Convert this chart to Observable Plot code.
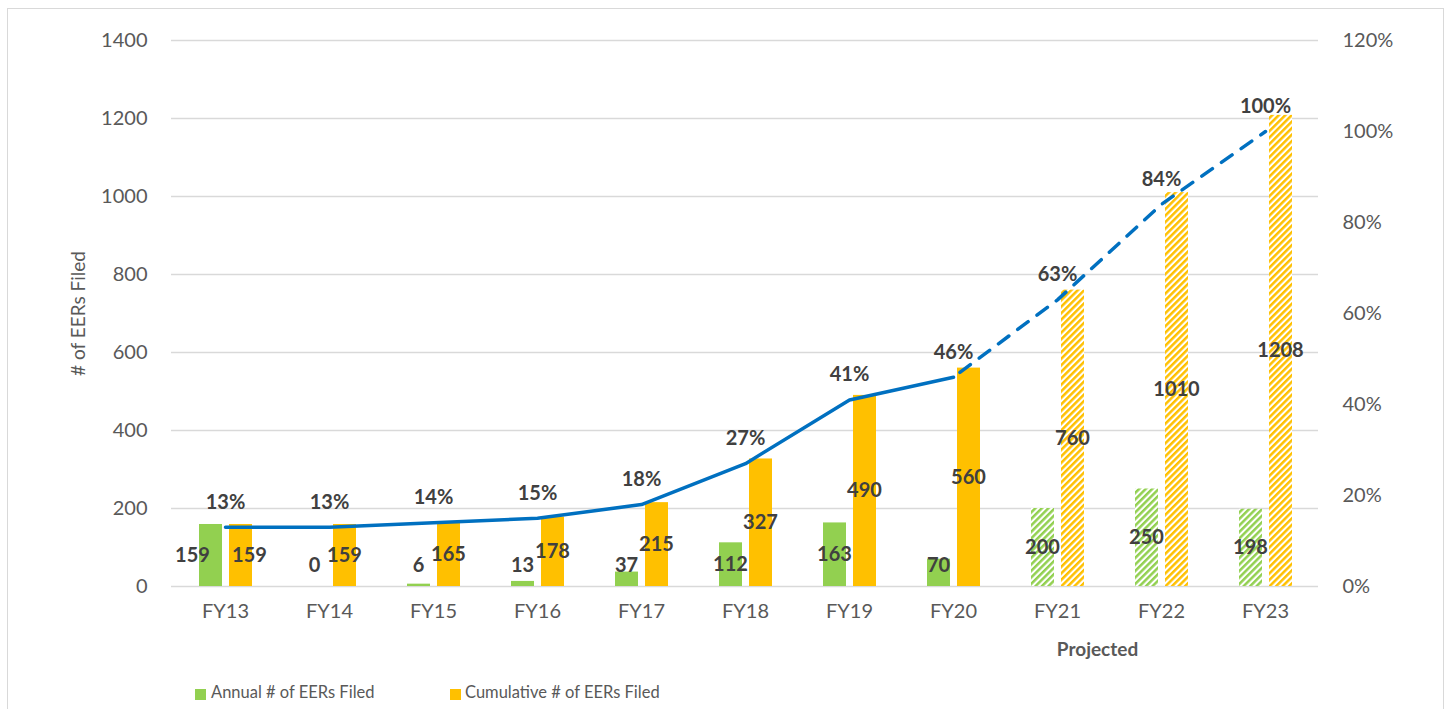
<!DOCTYPE html>
<html>
<head>
<meta charset="utf-8">
<script src="https://cdn.jsdelivr.net/npm/d3@7"></script>
<script src="https://cdn.jsdelivr.net/npm/@observablehq/plot@0.6"></script>
<style>
  html, body { margin: 0; padding: 0; background: #fff; }
  #wrap { position: relative; width: 1450px; height: 709px; overflow: hidden; font-family: Lato, "Open Sans", sans-serif; }
  #frame { position: absolute; left: 7px; top: 8px; width: 1437px; height: 720px; border: 1.5px solid #d9d9d9; box-sizing: border-box; pointer-events: none; }
  #chart svg { display: block; }
  #legend { position: relative; height: 34px; color: #595959; font-size: 16.5px; }
  .sw { position: absolute; top: 14px; width: 11px; height: 11px; }
  .lt { position: absolute; top: 7px; white-space: nowrap; }
</style>
</head>
<body>
<div id="wrap">
  <div id="chart"></div>
  <div id="legend">
    <div class="sw" style="left:195px;background:#92d050"></div>
    <div class="lt" style="left:211px">Annual # of EERs Filed</div>
    <div class="sw" style="left:450px;background:#ffc000"></div>
    <div class="lt" style="left:465px">Cumulative # of EERs Filed</div>
  </div>
  <div id="frame"></div>
</div>
<script>
const categories = ["FY13","FY14","FY15","FY16","FY17","FY18","FY19","FY20","FY21","FY22","FY23"];
const annual     = [159, 0, 6, 13, 37, 112, 163, 70, 200, 250, 198];
const cumulative = [159, 159, 165, 178, 215, 327, 490, 560, 760, 1010, 1208];
const percent    = [13, 13, 14, 15, 18, 27, 41, 46, 63, 84, 100];
const projected  = [false, false, false, false, false, false, false, false, true, true, true];
const leftTicks  = [0, 200, 400, 600, 800, 1000, 1200, 1400];
const rightTicks = [0, 20, 40, 60, 80, 100, 120];

const Y_MAX = 1400, P_MAX = 120;
const rows = categories.map((c, i) => ({
  cat: c, annual: annual[i], cumulative: cumulative[i], pct: percent[i], projected: projected[i]
}));
const pToY = p => p / P_MAX * Y_MAX;
const solidLine = rows.slice(0, 8);
const dashLine = rows.slice(7);

const GREEN = "#92d050", ORANGE = "#ffc000", BLUE = "#0070c0";
const labelColor = "#404040";

const actual = rows.filter(d => !d.projected);
const proj = rows.filter(d => d.projected);

const svg = Plot.plot({
  width: 1450,
  height: 675,
  marginLeft: 171,
  marginRight: 132,
  marginTop: 40,
  marginBottom: 89,
  style: { fontFamily: "Lato, 'Open Sans', sans-serif", fontSize: "20px", color: "#595959", background: "#fff", overflow: "visible" },
  x: { type: "band", domain: categories, padding: 0 },
  y: { domain: [0, Y_MAX] },
  marks: [
    Plot.gridY(leftTicks, { stroke: "#d9d9d9", strokeOpacity: 1, strokeWidth: 1.3 }),
    Plot.axisX({ tickSize: 0, tickPadding: 17, label: null, fontSize: 20 }),
    Plot.axisY({ ticks: leftTicks, tickFormat: d => String(d), tickSize: 0, tickPadding: 24, label: null, fontSize: 20 }),
    Plot.axisY({ anchor: "right", ticks: rightTicks.map(pToY), tickFormat: d => Math.round(d / Y_MAX * P_MAX) + "%", tickSize: 0, tickPadding: 24, label: null, fontSize: 20, textAnchor: "start" }),
    // bars
    Plot.barY(actual, { x: "cat", y: "annual", fill: GREEN, insetLeft: 26, insetRight: 55 }),
    Plot.barY(actual, { x: "cat", y: "cumulative", fill: ORANGE, insetLeft: 56, insetRight: 25 }),
    Plot.barY(proj, { x: "cat", y: "annual", fill: "url(#hatchG)", insetLeft: 26, insetRight: 55 }),
    Plot.barY(proj, { x: "cat", y: "cumulative", fill: "url(#hatchO)", insetLeft: 56, insetRight: 25 }),
    // line
    Plot.line(solidLine, { x: "cat", y: d => pToY(d.pct), stroke: BLUE, strokeWidth: 3.5, curve: "linear" }),
    Plot.line(dashLine, { x: "cat", y: d => pToY(d.pct), stroke: BLUE, strokeWidth: 3.5, strokeDasharray: "13,11", strokeDashoffset: -8, strokeLinecap: "round" }),
    // percent labels
    Plot.text(rows, { x: "cat", y: d => pToY(d.pct), text: d => d.pct + "%", dy: -25, fill: labelColor, fontWeight: "bold", fontSize: 20 }),
    // cumulative labels
    Plot.text(rows.filter(d => d.cat !== "FY13"), { x: "cat", y: d => d.cumulative / 2, text: d => String(d.cumulative), dx: 15, fill: labelColor, fontWeight: "bold", fontSize: 20 }),
    Plot.text(rows.filter(d => d.cat === "FY13"), { x: "cat", y: d => d.cumulative / 2, text: d => String(d.cumulative), dx: 24, fill: labelColor, fontWeight: "bold", fontSize: 20 }),
    // annual labels
    Plot.text(rows.filter(d => d.cat !== "FY13"), { x: "cat", y: d => Math.max(d.annual / 2, 54), text: d => String(d.annual), dx: -15, fill: labelColor, fontWeight: "bold", fontSize: 20 }),
    Plot.text(rows.filter(d => d.cat === "FY13"), { x: "cat", y: d => Math.max(d.annual / 2, 54), text: d => String(d.annual), dx: -33, fill: labelColor, fontWeight: "bold", fontSize: 20 }),
    // projected label
    Plot.text(["Projected"], { x: () => "FY22", y: () => 0, text: d => d, dx: -64, dy: 63, fill: "#595959", fontWeight: "bold", fontSize: 19 }),
    // y-axis title
    Plot.text(["# of EERs Filed"], { frameAnchor: "left", textAnchor: "middle", text: d => d, rotate: -90, dx: -93, fill: "#595959", fontSize: 19 })
  ]
});

const defs = `
<defs>
  <pattern id="hatchG" patternUnits="userSpaceOnUse" width="4.6" height="4.6" patternTransform="rotate(45)">
    <rect width="4.6" height="4.6" fill="#fff"/>
    <rect width="2.5" height="4.6" fill="${GREEN}"/>
  </pattern>
  <pattern id="hatchO" patternUnits="userSpaceOnUse" width="4.6" height="4.6" patternTransform="rotate(45)">
    <rect width="4.6" height="4.6" fill="#fff"/>
    <rect width="2.5" height="4.6" fill="${ORANGE}"/>
  </pattern>
</defs>`;
svg.insertAdjacentHTML("afterbegin", defs);
document.getElementById("chart").appendChild(svg);
</script>
</body>
</html>
